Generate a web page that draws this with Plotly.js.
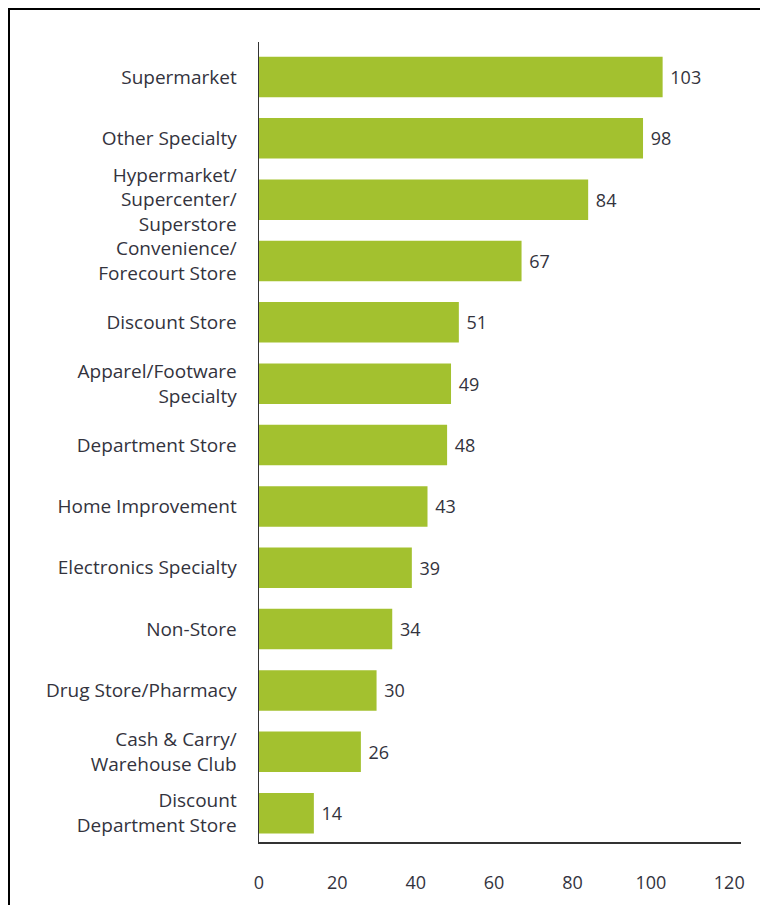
<!DOCTYPE html>
<html>
<head>
<meta charset="utf-8">
<script src="https://cdn.plot.ly/plotly-3.0.1.min.js"></script>
<style>
html,body{margin:0;padding:0;width:760px;height:905px;overflow:hidden;background:#fff;}
#frame{position:absolute;left:8px;top:8px;width:800px;height:1000px;border:2px solid #000;box-sizing:border-box;}
#chart{position:absolute;left:0;top:0;width:760px;height:905px;}
</style>
</head>
<body>
<div id="frame"></div>
<div id="chart"></div>
<script>
const categories = [
  "Supermarket",
  "Other Specialty",
  "Hypermarket/<br>Supercenter/<br>Superstore",
  "Convenience/<br>Forecourt Store",
  "Discount Store",
  "Apparel/Footware<br>Specialty",
  "Department Store",
  "Home Improvement",
  "Electronics Specialty",
  "Non-Store",
  "Drug Store/Pharmacy",
  "Cash &amp; Carry/<br>Warehouse Club",
  "Discount<br>Department Store"
];
const values = [103, 98, 84, 67, 51, 49, 48, 43, 39, 34, 30, 26, 14];
const xTicks = [0, 20, 40, 60, 80, 100, 120];

const FONT = "Open Sans, Noto Sans, sans-serif";
const TXT = "#33333d";

const trace = {
  type: "bar",
  orientation: "h",
  y: categories,
  x: values,
  texttemplate: " %{x}",
  textposition: "outside",
  cliponaxis: false,
  textfont: {family: FONT, size: 18, color: TXT},
  marker: {color: "#a3c12f", line: {width: 0}},
  width: 0.66,
  hoverinfo: "x+y"
};

const layout = {
  width: 760, height: 905,
  margin: {l: 259, r: 19, t: 42, b: 63},
  paper_bgcolor: "rgba(0,0,0,0)",
  plot_bgcolor: "rgba(0,0,0,0)",
  showlegend: false,
  font: {family: FONT, size: 18, color: TXT},
  xaxis: {
    range: [0, 123],
    tickvals: xTicks,
    ticktext: xTicks.map(String),
    showgrid: false, zeroline: false,
    showline: true, linecolor: "#333", linewidth: 1.5,
    ticks: "", ticklabelstandoff: 24,
    tickfont: {family: FONT, size: 18, color: TXT}
  },
  yaxis: {
    type: "category",
    range: [12.47, -0.57],
    showgrid: false, zeroline: false,
    showline: true, linecolor: "#333", linewidth: 1.5,
    ticks: "", ticklabelstandoff: 17,
    tickfont: {family: FONT, size: 19, color: TXT}
  }
};
Plotly.newPlot("chart", [trace], layout, {displayModeBar: false, staticPlot: true});
</script>
</body>
</html>
